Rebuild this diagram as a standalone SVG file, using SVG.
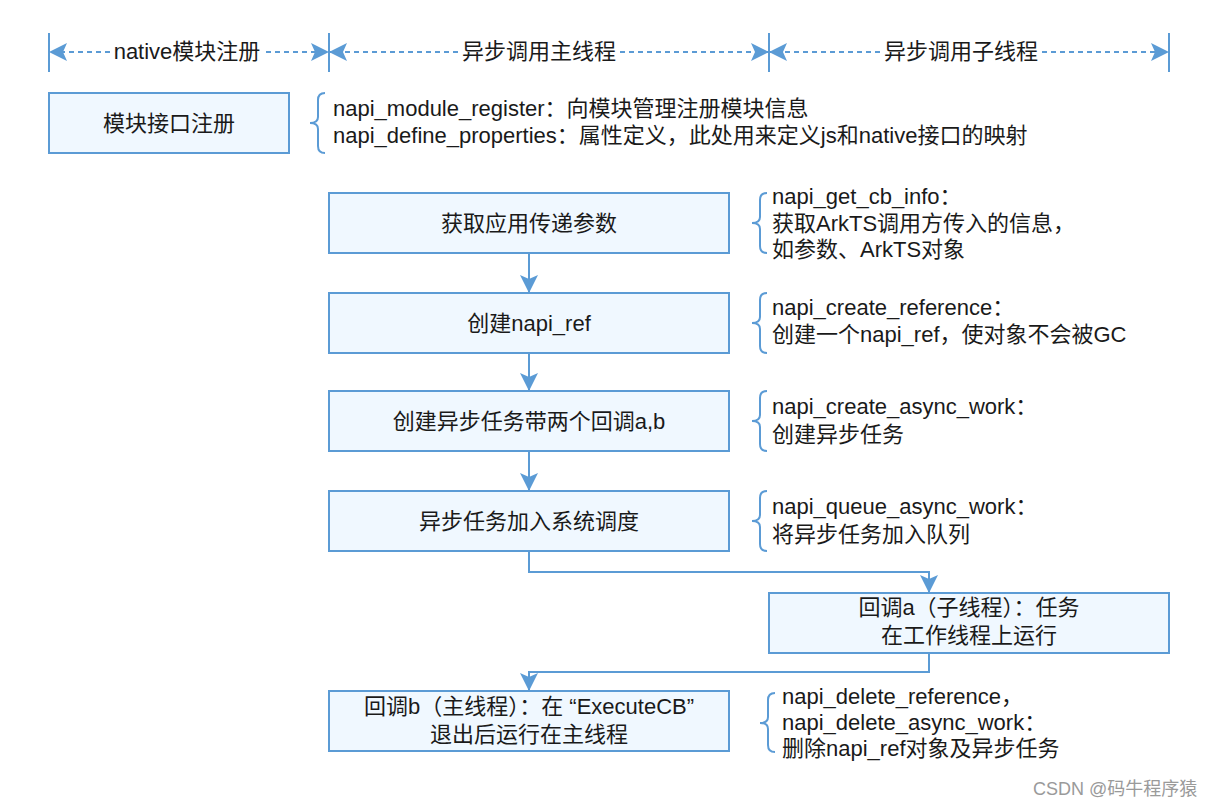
<svg xmlns="http://www.w3.org/2000/svg" width="1220" height="806" viewBox="0 0 1220 806">
<defs>
<style>
text{font-family:"Liberation Sans","Noto Sans CJK SC",sans-serif;font-size:22px;fill:#1a1a1a}
.c{text-anchor:middle}
.box{fill:#f0f8ff;stroke:#5b9bd5;stroke-width:2}
.ln{fill:none;stroke:#5b9bd5;stroke-width:2}
.dash{fill:none;stroke:#5b9bd5;stroke-width:2;stroke-dasharray:5 4}
.brace{fill:none;stroke:#5b9bd5;stroke-width:2}
.wm{font-size:18px;fill:#9a9a9a}
</style>
<marker id="ah" viewBox="0 0 18 18" refX="17" refY="9" markerWidth="18" markerHeight="18" markerUnits="userSpaceOnUse" orient="auto">
<path d="M0,0 L18,9 L0,18 L4,9 Z" fill="#5b9bd5"/>
</marker>
</defs>
<rect width="1220" height="806" fill="#ffffff"/>

<g id="header">
<line class="ln" x1="49" y1="33" x2="49" y2="72"/>
<line class="ln" x1="329" y1="33" x2="329" y2="72"/>
<line class="ln" x1="769" y1="33" x2="769" y2="72"/>
<line class="ln" x1="1169" y1="33" x2="1169" y2="72"/>
<line class="dash" x1="110" y1="52" x2="50" y2="52" marker-end="url(#ah)"/>
<line class="dash" x1="266" y1="52" x2="328" y2="52" marker-end="url(#ah)"/>
<line class="dash" x1="458" y1="52" x2="330" y2="52" marker-end="url(#ah)"/>
<line class="dash" x1="620" y1="52" x2="768" y2="52" marker-end="url(#ah)"/>
<line class="dash" x1="880" y1="52" x2="770" y2="52" marker-end="url(#ah)"/>
<line class="dash" x1="1042" y1="52" x2="1168" y2="52" marker-end="url(#ah)"/>
<text class="c" x="187" y="59">native模块注册</text>
<text class="c" x="539" y="59">异步调用主线程</text>
<text class="c" x="961" y="59">异步调用子线程</text>
</g>

<g id="connectors">
<line class="ln" x1="529" y1="253" x2="529" y2="292" marker-end="url(#ah)"/>
<line class="ln" x1="529" y1="353" x2="529" y2="390" marker-end="url(#ah)"/>
<line class="ln" x1="529" y1="451" x2="529" y2="490" marker-end="url(#ah)"/>
<polyline class="ln" points="529,551 529,572 929,572 929,592" marker-end="url(#ah)"/>
<polyline class="ln" points="929,653 929,672 529,672 529,690" marker-end="url(#ah)"/>
</g>

<g id="node-register">
<rect class="box" x="49" y="93" width="240" height="60"/>
<text class="c" x="169" y="131">模块接口注册</text>
</g>
<g id="note-register">
<path class="brace" d="M325,93 Q318,93 318,100 L318,117 Q318,123 310,123 Q318,123 318,129 L318,146 Q318,153 325,153"/>
<text x="333" y="116">napi_module_register：向模块管理注册模块信息</text>
<text x="333" y="143">napi_define_properties：属性定义，此处用来定义js和native接口的映射</text>
</g>

<g id="node-get-params">
<rect class="box" x="329" y="193" width="400" height="60"/>
<text class="c" x="529" y="231">获取应用传递参数</text>
</g>
<g id="note-get-params">
<path class="brace" d="M767,193 Q760,193 760,200 L760,217 Q760,223 752,223 Q760,223 760,229 L760,246 Q760,253 767,253"/>
<text x="772" y="204">napi_get_cb_info：</text>
<text x="772" y="231">获取ArkTS调用方传入的信息，</text>
<text x="772" y="257">如参数、ArkTS对象</text>
</g>

<g id="node-create-ref">
<rect class="box" x="329" y="293" width="400" height="60"/>
<text class="c" x="529" y="331">创建napi_ref</text>
</g>
<g id="note-create-ref">
<path class="brace" d="M767,293 Q760,293 760,300 L760,317 Q760,323 752,323 Q760,323 760,329 L760,346 Q760,353 767,353"/>
<text x="772" y="315">napi_create_reference：</text>
<text x="772" y="342">创建一个napi_ref，使对象不会被GC</text>
</g>

<g id="node-create-work">
<rect class="box" x="329" y="391" width="400" height="60"/>
<text class="c" x="529" y="429">创建异步任务带两个回调a,b</text>
</g>
<g id="note-create-work">
<path class="brace" d="M767,391 Q760,391 760,398 L760,415 Q760,421 752,421 Q760,421 760,427 L760,444 Q760,451 767,451"/>
<text x="772" y="414">napi_create_async_work：</text>
<text x="772" y="442">创建异步任务</text>
</g>

<g id="node-queue-work">
<rect class="box" x="329" y="491" width="400" height="60"/>
<text class="c" x="529" y="529">异步任务加入系统调度</text>
</g>
<g id="note-queue-work">
<path class="brace" d="M767,491 Q760,491 760,498 L760,515 Q760,521 752,521 Q760,521 760,527 L760,544 Q760,551 767,551"/>
<text x="772" y="514">napi_queue_async_work：</text>
<text x="772" y="542">将异步任务加入队列</text>
</g>

<g id="node-callback-a">
<rect class="box" x="769" y="593" width="400" height="60"/>
<text class="c" x="969" y="615">回调a（子线程）：任务</text>
<text class="c" x="969" y="643">在工作线程上运行</text>
</g>

<g id="node-callback-b">
<rect class="box" x="329" y="691" width="400" height="60"/>
<text class="c" x="529" y="714">回调b（主线程）：在 “ExecuteCB”</text>
<text class="c" x="529" y="742">退出后运行在主线程</text>
</g>
<g id="note-callback-b">
<path class="brace" d="M775,693 Q768,693 768,700 L768,717 Q768,723 760,723 Q768,723 768,729 L768,745 Q768,752 775,752"/>
<text x="782" y="704">napi_delete_reference，</text>
<text x="782" y="730">napi_delete_async_work：</text>
<text x="782" y="756">删除napi_ref对象及异步任务</text>
</g>

<text class="wm" x="1033" y="795">CSDN @码牛程序猿</text>
</svg>
